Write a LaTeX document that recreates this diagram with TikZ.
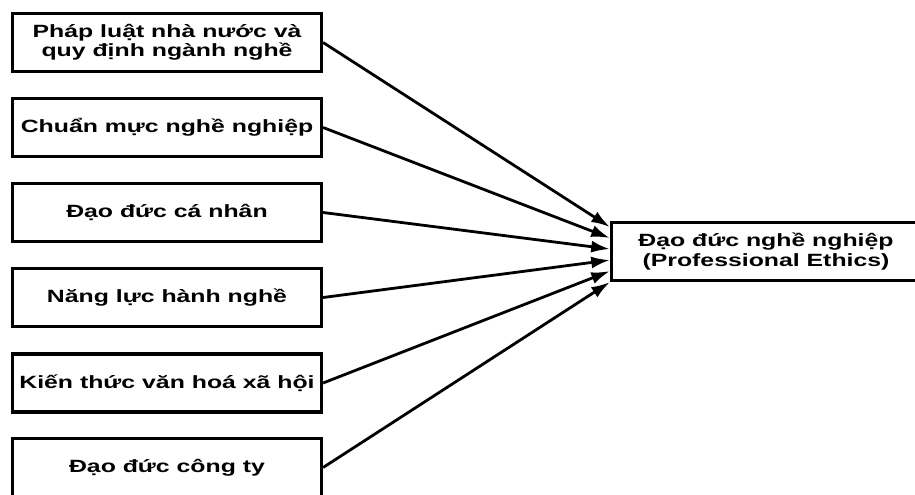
\documentclass[tikz,border=0pt]{standalone}
\usepackage{fontspec}
\setmainfont{Liberation Sans}[FakeStretch=1.4]
\usepackage{tikz}
\usetikzlibrary{arrows.meta, calc}

\begin{document}
\begin{tikzpicture}[x=0.75pt, y=-0.75pt,
  factor/.style={draw=black, line width=2.4pt, minimum width=231.75pt,
    minimum height=43.5pt, inner sep=0pt, align=center,
    font=\fontsize{13.3}{14.5}\selectfont\bfseries},
  link/.style={line width=2.1pt, -{Latex[length=14pt, width=9pt]}}]
\useasboundingbox (0,0) rectangle (915,494);
% influencing factors
\node[factor] (law) at (167,42.5) {Pháp luật nhà nước và\\quy định ngành nghề};
\node[factor] (norms) at (167,127.5) {Chuẩn mực nghề nghiệp};
\node[factor] (personal) at (167,212.5) {Đạo đức cá nhân};
\node[factor] (competence) at (167,297.5) {Năng lực hành nghề};
\node[factor] (culture) at (167,383) {Kiến thức văn hoá xã hội};
\node[factor] (company) at (167,467.5) {Đạo đức công ty};
% outcome
\node[factor] (ethics) at (766,251.5) {Đạo đức nghề nghiệp\\(Professional Ethics)};
\draw[link] (law.east) -- ($(ethics.north west)!0.1!(ethics.south west)$);
\draw[link] (norms.east) -- ($(ethics.north west)!0.28!(ethics.south west)$);
\draw[link] (personal.east) -- ($(ethics.north west)!0.46!(ethics.south west)$);
\draw[link] (competence.east) -- ($(ethics.north west)!0.64!(ethics.south west)$);
\draw[link] (culture.east) -- ($(ethics.north west)!0.82!(ethics.south west)$);
\draw[link] (company.east) -- ($(ethics.north west)!1.0!(ethics.south west)$);
\end{tikzpicture}
\end{document}
